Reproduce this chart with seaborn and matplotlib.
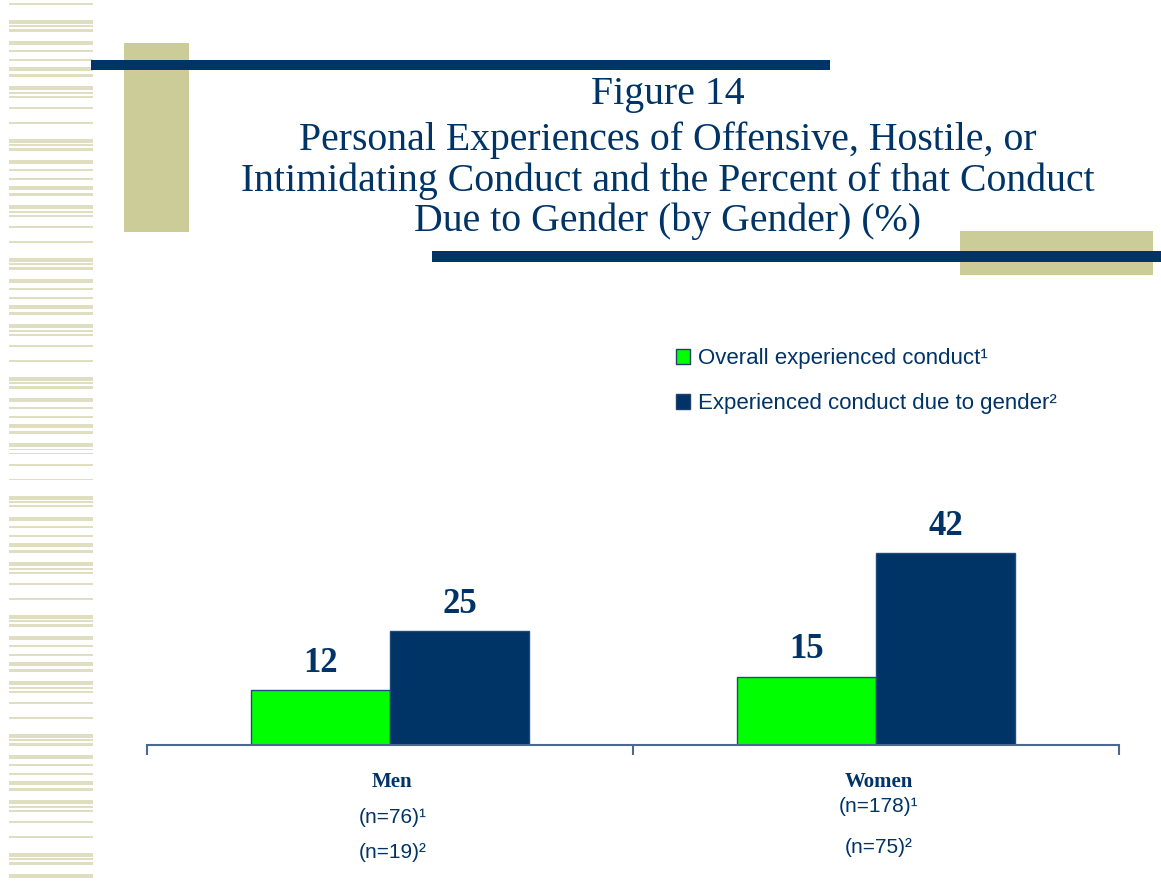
import matplotlib
matplotlib.use("Agg")
import matplotlib.pyplot as plt
from matplotlib.patches import Rectangle
from matplotlib import transforms
import seaborn as sns
import pandas as pd

# ---- data ----
categories = ["Men", "Women"]
series = ["Overall experienced conduct\u00b9", "Experienced conduct due to gender\u00b2"]
overall = [12, 15]
due_to_gender = [25, 42]
n_overall = ["(n=76)\u00b9", "(n=178)\u00b9"]
n_gender = ["(n=19)\u00b2", "(n=75)\u00b2"]
title_lines = [
    "Figure 14",
    "Personal Experiences of Offensive, Hostile, or",
    "Intimidating Conduct and the Percent of that Conduct",
    "Due to Gender (by Gender) (%)",
]

GREEN = "#00ff00"
NAVY = "#003366"
KHAKI = "#cccc99"
STRIPE = "#e0dec0"
AXIS = "#4d6a8e"

sns.set_style("white")
plt.rcParams["font.family"] = ["Liberation Sans", "DejaVu Sans"]

W, H = 1161, 884
fig = plt.figure(figsize=(W / 100, H / 100), dpi=100)


def rect(x0, y0, x1, y1, color, z=1, alpha=1.0):
    fig.add_artist(Rectangle((x0 / W, 1 - y1 / H), (x1 - x0) / W, (y1 - y0) / H,
                             transform=fig.transFigure, facecolor=color,
                             edgecolor="none", zorder=z, alpha=alpha))


# left stripe texture
pattern = [(0, 4), (9, 2), (18, 1.5), (26, 4), (33, 2.5), (45, 4), (51, 1.5), (55, 1.5),
           (66, 1.5), (81, 1.5), (98, 4), (103, 1.5), (107, 2.5)]
period = 119
start = 41 - period
while start < H:
    for off, h in pattern:
        y = start + off
        if 0 <= y < H - 2:
            rect(9, y, 93, y + h, STRIPE, z=0)
    start += period

# decorative blocks
rect(124, 43, 189, 232, KHAKI, z=1)
rect(91, 60, 830, 70, NAVY, z=2)
rect(960, 231, 1153, 275, KHAKI, z=1)
rect(432, 251, 1161, 262, NAVY, z=2)

# title
baselines = [104, 150, 191, 231]
for line, yb in zip(title_lines, baselines):
    fig.text(668 / W, 1 - yb / H, line, ha="center", va="baseline",
             family="Liberation Serif", fontsize=28.6, color=NAVY)

# ---- chart ----
ax = fig.add_axes([147 / W, 1 - 745 / H, 972 / W, 445 / H])
df = pd.DataFrame({
    "group": categories * 2,
    "pct": overall + due_to_gender,
    "series": [series[0]] * 2 + [series[1]] * 2,
})
sns.barplot(data=df, x="group", y="pct", hue="series", hue_order=series,
            palette=[GREEN, NAVY], width=0.572, edgecolor="#1f4a7a",
            linewidth=1, saturation=1, ax=ax, legend=True, errorbar=None)

ax.set_xlim(-0.5, 1.5)
ax.set_ylim(0, 445 / 4.56)
for s in ["left", "right", "top"]:
    ax.spines[s].set_visible(False)
ax.spines["bottom"].set_color(AXIS)
ax.spines["bottom"].set_linewidth(1.5)
ax.set_yticks([])
ax.set_xticks([0, 1])
ax.set_xticklabels(["", ""])
ax.tick_params(axis="x", which="major", length=0)
ax.set_xticks([-0.5, 0.5, 1.5], minor=True)
ax.tick_params(axis="x", which="minor", bottom=True, length=7, width=1.5,
               color=AXIS, direction="out")
ax.set_xlabel("")
ax.set_ylabel("")

for cont in ax.containers:
    ax.bar_label(cont, padding=7.5, family="Liberation Serif", fontweight="bold",
                 fontsize=25, color=NAVY)

# category labels
trans = transforms.blended_transform_factory(ax.transData, fig.transFigure)
cat_base = [787, 787]
n1_base = [823, 812]
n2_base = [858, 853]
for i, cat in enumerate(categories):
    ax.text(i + 0.005, 1 - cat_base[i] / H, cat, transform=trans, ha="center",
            va="baseline", family="Liberation Serif", fontweight="bold",
            fontsize=15, color=NAVY)
    ax.text(i + 0.005, 1 - n1_base[i] / H, n_overall[i], transform=trans, ha="center",
            va="baseline", fontsize=15, color=NAVY)
    ax.text(i + 0.005, 1 - n2_base[i] / H, n_gender[i], transform=trans, ha="center",
            va="baseline", fontsize=15, color=NAVY)

# legend
old = ax.get_legend()
handles = old.legend_handles
labels = [t.get_text() for t in old.get_texts()]
old.remove()
for hnd in handles:
    hnd.set_edgecolor("#1f3f6f")
    hnd.set_linewidth(1)
leg = fig.legend(handles, labels, loc="upper left",
                 bbox_to_anchor=(676 / W, 1 - 348 / H), bbox_transform=fig.transFigure,
                 frameon=False, fontsize=16, handlelength=0.65, handleheight=0.65,
                 handletextpad=0.35, labelspacing=1.1, borderpad=0, borderaxespad=0)
for t in leg.get_texts():
    t.set_color(NAVY)

fig.savefig("out.png", dpi=100)
